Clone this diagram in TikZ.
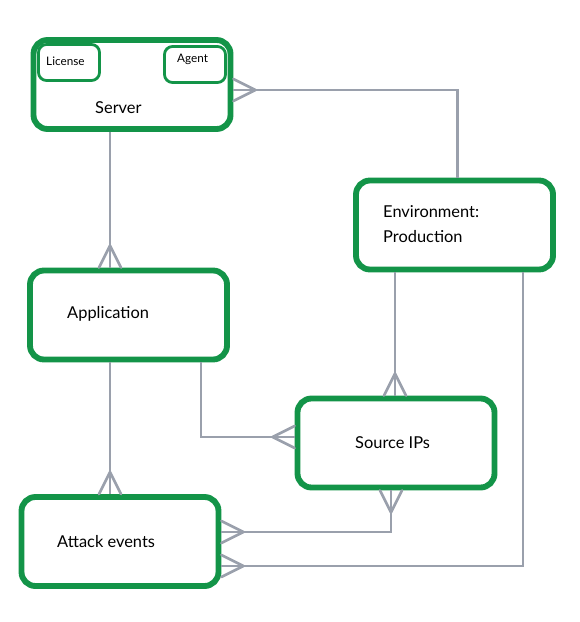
\documentclass[tikz,border=0pt]{standalone}
\usepackage{fontspec}
\setmainfont{Lato}
\usepackage{tikz}
\usetikzlibrary{positioning,calc,decorations.markings}
\usepackage{xcolor}
\definecolor{boxgreen}{RGB}{19,148,72}
\definecolor{linkgray}{RGB}{154,160,172}

\tikzset{
    entity/.style={draw=boxgreen,line width=5pt,rounded corners=0.42cm,minimum width=5.91cm,minimum height=2.67cm,inner sep=0pt},
    subentity/.style={draw=boxgreen,line width=2.4pt,rounded corners=0.24cm,minimum width=1.83cm,minimum height=1.08cm,inner sep=0pt},
    boxtext/.style={font=\fontsize{14}{20.5}\selectfont,anchor=base west,inner sep=0pt,align=left},
    smalltext/.style={font=\fontsize{10}{12}\selectfont,anchor=base west,inner sep=0pt},
    link/.style={draw=linkgray,line width=2.3pt},
    crow end/.style={postaction={decorate,decoration={markings,mark=at position 1 with {
        \draw[linkgray,line width=2.3pt,line cap=round] (-22,0) -- (0,11) (-22,0) -- (0,-11);}}}},
    crow start/.style={postaction={decorate,decoration={markings,mark=at position 0 with {
        \draw[linkgray,line width=2.3pt,line cap=round] (22,0) -- (0,11) (22,0) -- (0,-11);}}}}
}

\begin{document}
\begin{tikzpicture}[x=0.03cm,y=-0.03cm]
        \useasboundingbox (0,0) rectangle (579,622);

        % Boxes
        \node[entity] (server) at (132,84.5) {};
        \node[subentity] (license) at (69,62.5) {};
        \node[subentity] (agent) at (195,64.5) {};
        \node[entity] (env) at (454.5,225) {};
        \node[entity] (app) at (128.5,315) {};
        \node[entity] (src) at (396,443) {};
        \node[entity] (attack) at (120,541.5) {};

        % Texts
        \node[boxtext] (server-txt) at (95,114) {Server};
        \node[smalltext] (license-txt) at (46,66) {License};
        \node[smalltext] (agent-txt) at (177,63) {Agent};
        \node[boxtext] (env-txt) at (383,242) {Environment:\\Production};
        \node[boxtext] (app-txt) at (67,318) {Application};
        \node[boxtext] (src-txt) at (355,448) {Source IPs};
        \node[boxtext] (attack-txt) at (57,547) {Attack events};

        % Links
        \draw[link,crow end] ($(server.south)+(-22,0)$) -- ($(app.north)+(-18.5,0)$);
        \draw[link,crow end] ($(env.north)+(3,0)$) |- ($(server.east)+(0,5.5)$);
        \draw[link,crow end] ($(app.south)+(-18.5,0)$) -- ($(attack.north)+(-10,0)$);
        \draw[link,crow end] ($(app.south)+(72.5,0)$) |- ($(src.west)+(0,-6)$);
        \draw[link,crow end] ($(env.south)+(-59.5,0)$) -- ($(src.north)+(-1,0)$);
        \draw[link,crow start,crow end] ($(src.south)+(-5,0)$) |- ($(attack.east)+(0,-9.5)$);
        \draw[link,crow end] ($(env.south)+(68.5,0)$) |- ($(attack.east)+(0,24.5)$);
    \end{tikzpicture}
\end{document}
